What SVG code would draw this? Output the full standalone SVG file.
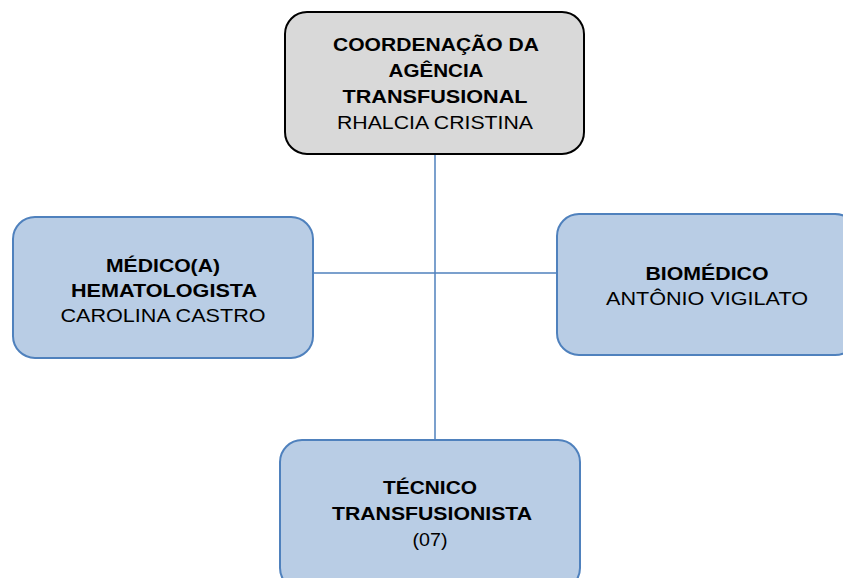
<svg xmlns="http://www.w3.org/2000/svg" width="843" height="578" viewBox="0 0 843 578">
<style>
.n{fill:#b9cde5;stroke:#4f81bd;stroke-width:2}
.top{fill:#d9d9d9;stroke:#000;stroke-width:2}
.c{stroke:#4f81bd;stroke-width:1.5;fill:none}
text{font-family:"Liberation Sans",Arial,sans-serif;font-size:18px;text-anchor:middle;fill:#000}
.b{font-weight:bold}
</style>
<rect width="843" height="578" fill="#fff"/>
<g id="connectors">
<line class="c" x1="435" y1="154" x2="435" y2="440"/>
<line class="c" x1="313" y1="273" x2="557" y2="273"/>
</g>
<g id="coordenacao">
<rect class="top" x="285" y="12" width="299" height="142" rx="22"/>
<text x="436" y="51" class="b" textLength="206" lengthAdjust="spacingAndGlyphs">COORDENAÇÃO DA</text>
<text x="436" y="77" class="b" textLength="95" lengthAdjust="spacingAndGlyphs">AGÊNCIA</text>
<text x="435" y="103" class="b" textLength="185" lengthAdjust="spacingAndGlyphs">TRANSFUSIONAL</text>
<text x="435" y="129" textLength="196" lengthAdjust="spacingAndGlyphs">RHALCIA CRISTINA</text>
</g>
<g id="medico">
<rect class="n" x="13" y="217" width="300" height="141" rx="22"/>
<text x="163" y="272" class="b" textLength="114" lengthAdjust="spacingAndGlyphs">MÉDICO(A)</text>
<text x="164" y="297" class="b" textLength="186" lengthAdjust="spacingAndGlyphs">HEMATOLOGISTA</text>
<text x="163" y="322" textLength="205" lengthAdjust="spacingAndGlyphs">CAROLINA CASTRO</text>
</g>
<g id="biomedico">
<rect class="n" x="557" y="214" width="300" height="141" rx="22"/>
<text x="707" y="280" class="b" textLength="123" lengthAdjust="spacingAndGlyphs">BIOMÉDICO</text>
<text x="707" y="305" textLength="202" lengthAdjust="spacingAndGlyphs">ANTÔNIO VIGILATO</text>
</g>
<g id="tecnico">
<rect class="n" x="280" y="440" width="300" height="150" rx="22"/>
<text x="430" y="494" class="b" textLength="94" lengthAdjust="spacingAndGlyphs">TÉCNICO</text>
<text x="432" y="520" class="b" textLength="200" lengthAdjust="spacingAndGlyphs">TRANSFUSIONISTA</text>
<text x="430" y="546" textLength="35" lengthAdjust="spacingAndGlyphs">(07)</text>
</g>
</svg>
